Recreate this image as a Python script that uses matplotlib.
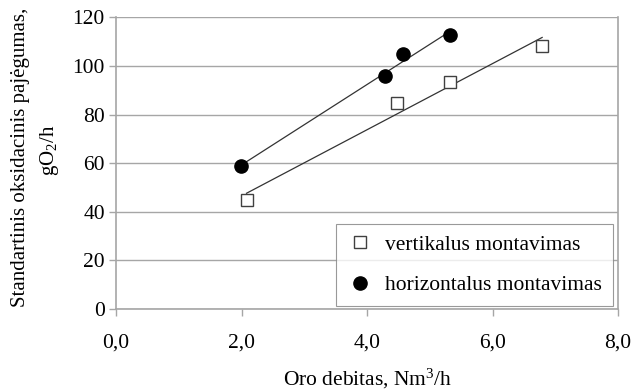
import numpy as np
import matplotlib
matplotlib.use('Agg')
import matplotlib.pyplot as plt
from matplotlib.ticker import FuncFormatter

plt.rcParams['font.family'] = ['Liberation Serif', 'DejaVu Serif']
plt.rcParams['mathtext.fontset'] = 'custom'
plt.rcParams['mathtext.rm'] = 'Liberation Serif'
plt.rcParams['mathtext.it'] = 'Liberation Serif:italic'

# data
vert_x = [2.08, 4.47, 5.32, 6.79]
vert_y = [44.8, 84.8, 93.4, 108.2]
horiz_x = [1.99, 4.29, 4.58, 5.32]
horiz_y = [58.8, 95.9, 105.1, 112.6]

xticks = [0, 2, 4, 6, 8]
yticks = [0, 20, 40, 60, 80, 100, 120]

fs = 15.5

fig = plt.figure(figsize=(6.32, 3.91), dpi=100)
ax = fig.add_axes([0.1835, 0.2097, 0.7945, 0.746])

grid_c = '#a6a6a6'

# trend lines (least squares fit, drawn between first and last point)
for xs, ys in [(vert_x, vert_y), (horiz_x, horiz_y)]:
  k, b = np.polyfit(xs, ys, 1)
  xl = np.array([min(xs), max(xs)])
  ax.plot(xl, k * xl + b, color='#333333', lw=0.9, zorder=2)

ax.plot(vert_x, vert_y, 's', ms=8.5, mfc='white', mec='#404040', mew=1.0,
        ls='none', label='vertikalus montavimas', zorder=3)
ax.plot(horiz_x, horiz_y, 'o', ms=9.5, mfc='black', mec='black',
        ls='none', label='horizontalus montavimas', zorder=3)

ax.set_xlim(0, 8)
ax.set_ylim(0, 120)
ax.set_xticks(xticks)
ax.set_yticks(yticks)
ax.xaxis.set_major_formatter(FuncFormatter(lambda v, p: ('%.1f' % v).replace('.', ',')))
ax.tick_params(axis='both', labelsize=fs, color=grid_c, length=5, width=1)
ax.tick_params(axis='x', pad=13)
ax.tick_params(axis='y', pad=3)

ax.grid(axis='y', color=grid_c, lw=1)
ax.set_axisbelow(True)
for s in ['left', 'bottom', 'right']:
  ax.spines[s].set_color(grid_c)
  ax.spines[s].set_linewidth(1.2)
ax.spines['top'].set_visible(False)

leg = ax.legend(loc='lower right', bbox_to_anchor=(0.99, 0.01), fontsize=fs,
                frameon=True, fancybox=False, handletextpad=0.6,
                labelspacing=0.95, borderpad=0.5, handlelength=1.2,
                borderaxespad=0)
leg.get_frame().set_edgecolor('#808080')
leg.get_frame().set_linewidth(0.8)

fig.text(0.582, 0.0153, 'Oro debitas, Nm$^3$/h', ha='center', va='baseline', fontsize=fs)
fig.text(0.032, 0.597, 'Standartinis oksidacinis pajėgumas,', rotation=90,
         ha='center', va='center', fontsize=15)
fig.text(0.078, 0.616, 'gO$_2$/h', rotation=90, ha='center', va='center', fontsize=15)

plt.savefig('out.png', dpi=100)
